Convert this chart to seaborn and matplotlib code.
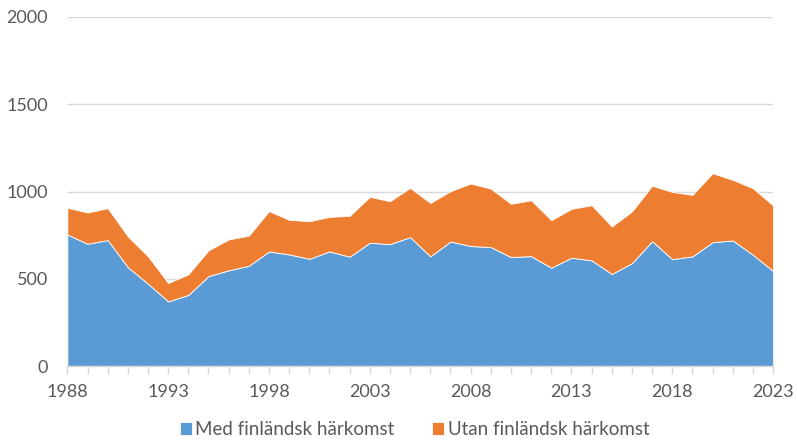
import numpy as np
import pandas as pd
import matplotlib
import matplotlib.pyplot as plt
import seaborn as sns

matplotlib.use('Agg')

# Values
years = list(range(1988, 2024))
med_finsk = [754, 701, 722, 567, 472, 371, 408, 516, 549, 575, 657, 640,
             615, 657, 627, 707, 699, 739, 629, 714, 688, 682, 625, 630,
             564, 621, 606, 528, 590, 716, 613, 629, 710, 720, 638, 545]
totalt = [907, 880, 905, 743, 629, 476, 526, 663, 726, 747, 888, 838,
          830, 855, 861, 970, 945, 1021, 935, 1002, 1046, 1017, 930, 950,
          836, 901, 922, 800, 886, 1033, 998, 981, 1105, 1067, 1019, 920]
utan_finsk = [t - m for t, m in zip(totalt, med_finsk)]

labels = ['Med finländsk härkomst', 'Utan finländsk härkomst']
colors = ['#5B9BD5', '#ED7D31']

df = pd.DataFrame({'År': years, labels[0]: med_finsk, labels[1]: utan_finsk})

sns.set_theme(style='white')
plt.rcParams['font.family'] = ['Lato', 'DejaVu Sans']
txt = '#595959'
grid = '#D9D9D9'

fig = plt.figure(figsize=(7.97, 4.46), dpi=100)
ax = fig.add_axes([0.0845, 0.179, 0.8855, 0.783])

ax.stackplot(df['År'], df[labels[0]], df[labels[1]], labels=labels,
             colors=colors, linewidth=0.6, edgecolor='white')

ax.set_xlim(1988, 2023)
ax.set_ylim(0, 2000)
ax.set_yticks(np.arange(0, 2001, 500))
ax.set_xticks(np.arange(1988, 2024, 5))
ax.set_xticks(np.arange(1988, 2024, 1), minor=True)
ax.yaxis.grid(True, color=grid, linewidth=1)
ax.set_axisbelow(True)

for s in ['top', 'right', 'left']:
    ax.spines[s].set_visible(False)
ax.spines['bottom'].set_color(grid)
ax.spines['bottom'].set_linewidth(1)

ax.tick_params(axis='y', length=0, labelsize=13, labelcolor=txt, pad=14)
ax.tick_params(axis='x', which='both', direction='out', length=6,
               color=grid, width=1, labelsize=13, labelcolor=txt, pad=7,
               bottom=True)
ax.tick_params(axis='x', which='minor', length=6)
ax.set_xlabel('')
ax.set_ylabel('')

ax.legend(loc='upper center', bbox_to_anchor=(0.492, -0.125), ncol=2,
          frameon=False, fontsize=13.5, labelcolor=txt, handlelength=0.64,
          handleheight=0.64, handletextpad=0.2, columnspacing=2.0,
          borderaxespad=0.2)

fig.savefig('out.png', dpi=100)
